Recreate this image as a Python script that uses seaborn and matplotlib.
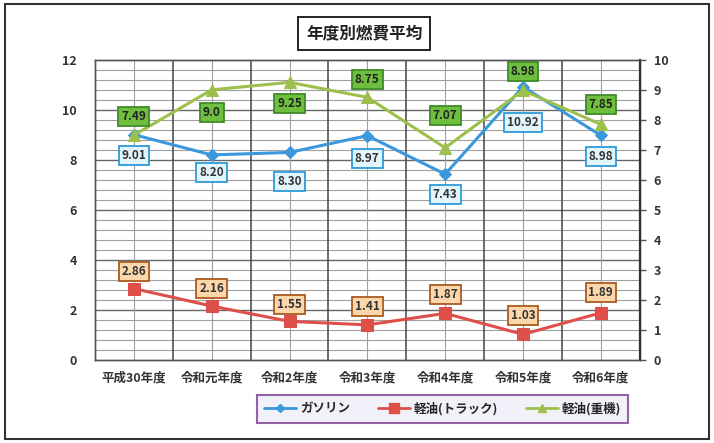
import matplotlib
matplotlib.use('Agg')
import matplotlib.pyplot as plt
import seaborn as sns
import pandas as pd
import numpy as np
from matplotlib.patches import Rectangle
from matplotlib.lines import Line2D

# data
years = ['平成30年度', '令和元年度', '令和2年度', '令和3年度', '令和4年度', '令和5年度', '令和6年度']
gasoline = [9.01, 8.20, 8.30, 8.97, 7.43, 10.92, 8.98]          # left axis
diesel_truck = [2.86, 2.16, 1.55, 1.41, 1.87, 1.03, 1.89]       # left axis
diesel_heavy = [7.49, 9.0, 9.25, 8.75, 7.07, 8.98, 7.85]        # right axis
heavy_labels = ['7.49', '9.0', '9.25', '8.75', '7.07', '8.98', '7.85']

df = pd.DataFrame({'pos': np.arange(len(years)), 'year': years,
                   'gasoline': gasoline, 'truck': diesel_truck, 'heavy': diesel_heavy})

sns.set_style('white')
plt.rcParams['font.family'] = ['Noto Sans CJK JP', 'DejaVu Sans']

c_blue = '#3b98dd'
c_red = '#de4f4a'
c_green = '#9dbf4c'

fig = plt.figure(figsize=(7.14, 4.43), dpi=100)
ax = fig.add_axes([0.133, 0.187, 0.763, 0.678])
ax2 = ax.twinx()

# grid
ax.set_xlim(-0.5, len(years) - 0.5)
ax.set_ylim(0, 12)
ax2.set_ylim(0, 10)
for y in np.arange(0.4, 12, 0.4):
    major = abs(y / 2 - round(y / 2)) < 1e-6
    ax.axhline(y, color='#666666' if major else '#a0a0a0', lw=1.0 if major else 0.8, zorder=0)
for x in np.arange(0.5, len(years) - 0.5, 1):
    ax.axvline(x, color='#444444', lw=1.1, zorder=0)
for x in df['pos']:
    ax.axvline(x, color='#a0a0a0', lw=0.8, zorder=0)

sns.lineplot(data=df, x='pos', y='gasoline', ax=ax, color=c_blue, lw=2.2,
             marker='D', markersize=6, markeredgecolor=c_blue, zorder=3)
sns.lineplot(data=df, x='pos', y='truck', ax=ax, color=c_red, lw=2.2,
             marker='s', markersize=8, markeredgecolor=c_red, zorder=3)
sns.lineplot(data=df, x='pos', y='heavy', ax=ax2, color=c_green, lw=2.2,
             marker='^', markersize=8, markeredgecolor=c_green, zorder=3)

# data labels (offsets in pixels, as in the original)
blue_off = [-21, -18, -29, -23, -20, -36, -21]
red_off = [17, 18, 17, 18, 19, 19, 20]
green_off = [19, -23, -21, 18, 32, 19, 20]

box = dict(boxstyle='square,pad=0.25', lw=1.3)
for i, p in enumerate(df['pos']):
    ax.annotate(f'{gasoline[i]:.2f}', (p, gasoline[i]), xytext=(0, blue_off[i]),
                textcoords='offset pixels', ha='center', va='center', fontsize=8.5,
                fontweight='bold', color='#333333', zorder=5,
                bbox=dict(box, fc='#e2f4fc', ec='#2f9ad8'))
    ax.annotate(f'{diesel_truck[i]:.2f}', (p, diesel_truck[i]), xytext=(0, red_off[i]),
                textcoords='offset pixels', ha='center', va='center', fontsize=8.5,
                fontweight='bold', color='#333333', zorder=5,
                bbox=dict(box, fc='#fbd7ab', ec='#a85a20'))
    ax2.annotate(heavy_labels[i], (p, diesel_heavy[i]), xytext=(0, green_off[i]),
                 textcoords='offset pixels', ha='center', va='center', fontsize=8.5,
                 fontweight='bold', color='#222222', zorder=5,
                 bbox=dict(box, fc='#6fbf3f', ec='#3f8a2a'))

ax.set_xticks(df['pos'])
ax.set_xticklabels(years, fontsize=9, fontweight='bold', color='#333333')
ax.set_yticks(range(0, 13, 2))
ax.set_yticklabels([str(v) for v in range(0, 13, 2)], fontsize=9, fontweight='bold', color='#333333')
ax2.set_yticks(range(0, 11))
ax2.set_yticklabels([str(v) for v in range(0, 11)], fontsize=9, fontweight='bold', color='#333333')
ax.set_xlabel('')
ax.set_ylabel('')
ax2.set_ylabel('')
ax.tick_params(axis='y', length=0, pad=13)
ax.tick_params(axis='x', length=0, pad=8)
ax2.tick_params(axis='y', length=4, width=1, color='#555555', pad=6)
for a in (ax, ax2):
    for s in a.spines.values():
        s.set_color('#555555')
        s.set_linewidth(1.0)
ax2.spines['right'].set_linewidth(1.6)
ax2.spines['right'].set_color('#333333')

# title box
fig.text(0.51, 0.925, '年度別燃費平均', ha='center', va='center', fontsize=12, fontweight='bold',
         color='#222222', bbox=dict(boxstyle='square,pad=0.45', fc='white', ec='#222222', lw=1.4))

# legend
handles = [Line2D([], [], color=c_blue, lw=2, marker='D', markersize=4),
           Line2D([], [], color=c_red, lw=2, marker='s', markersize=7),
           Line2D([], [], color=c_green, lw=2, marker='^', markersize=6)]
leg = fig.legend(handles, ['ガソリン', '軽油(トラック)', '軽油(重機)'], ncol=3,
                 loc='center', bbox_to_anchor=(0.62, 0.077), frameon=True, fancybox=False,
                 prop={'size': 9, 'weight': 'bold'}, handlelength=2.6, columnspacing=2.2,
                 handletextpad=0.3, borderpad=0.55)
leg.get_frame().set_facecolor('#eeeef8')
leg.get_frame().set_edgecolor('#7a3b8f')
leg.get_frame().set_linewidth(1.5)

# outer frame
fig.patches.append(Rectangle((0.007, 0.008), 0.986, 0.982, transform=fig.transFigure,
                             fill=False, ec='#333333', lw=1.5))

fig.savefig('out.png', dpi=100)
